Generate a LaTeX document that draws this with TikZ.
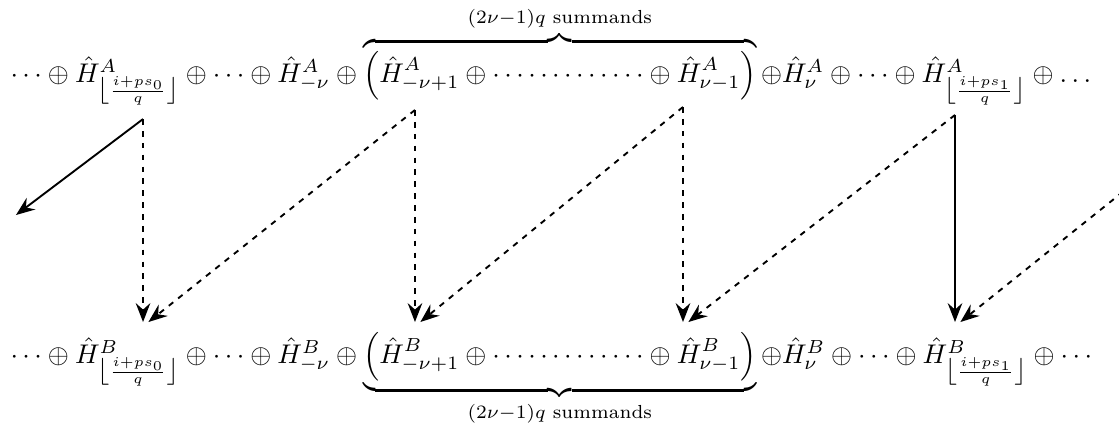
\documentclass[tikz,border=0pt]{standalone}
\usepackage{amsmath}
\usetikzlibrary{arrows.meta}
\tikzset{
  mapto/.style={-{Stealth[length=7pt,width=5.4pt,inset=2.4pt]}, line width=0.7pt},
  maptodash/.style={mapto, dash pattern=on 2.1pt off 2.3pt}
}
\newcommand{\flo}[1]{\left\lfloor\frac{i+ps_{#1}}{q}\right\rfloor}
\newcommand{\dotrun}{\mathinner{\cdotp\cdotp\cdotp\cdotp\cdotp\cdotp\cdotp\cdotp\cdotp\cdotp\cdotp\cdotp\cdotp}}
\begin{document}
\begin{tikzpicture}
  \useasboundingbox (0,0) rectangle (14.567,5.533);
  % Upper sum
  \node[anchor=base west, inner sep=0pt] (rowA) at (0.130,4.465)
    {$\cdots\oplus\hat H^A_{\flo{0}}\oplus\cdots\oplus\hat H^A_{-\nu}\oplus
      \overbrace{\left(\hat H^A_{-\nu+1}\oplus\dotrun\oplus\hat H^A_{\nu-1}\right)}^{(2\nu-1)q\text{ summands}}
      \oplus\hat H^A_{\nu}\oplus\cdots\oplus\hat H^A_{\flo{1}}\oplus\ldots$};
  % Lower sum
  \node[anchor=base west, inner sep=0pt] (rowB) at (0.130,0.807)
    {$\cdots\oplus\hat H^B_{\flo{0}}\oplus\cdots\oplus\hat H^B_{-\nu}\oplus
      \underbrace{\left(\hat H^B_{-\nu+1}\oplus\dotrun\oplus\hat H^B_{\nu-1}\right)}_{(2\nu-1)q\text{ summands}}
      \oplus\hat H^B_{\nu}\oplus\cdots\oplus\hat H^B_{\flo{1}}\oplus\cdots$};
  % Arrow ends
  \coordinate (a0) at (1.862,3.983);
  \coordinate (a1) at (5.402,4.101);
  \coordinate (a2) at (8.891,4.140);
  \coordinate (a3) at (12.432,4.036);
  \coordinate (a4) at (15.947,4.101);
  \coordinate (b0) at (1.862,1.341);
  \coordinate (b1) at (5.402,1.341);
  \coordinate (b2) at (8.891,1.341);
  \coordinate (b3) at (12.432,1.341);
  \coordinate (out) at (0.208,2.734);
  % Arrows
  \draw[mapto] (a0) -- (out);
  \draw[maptodash] (a0) -- (b0);
  \draw[maptodash] (a1) -- ([xshift=2pt]b0);
  \draw[maptodash] (a1) -- (b1);
  \draw[maptodash] (a2) -- ([xshift=2pt]b1);
  \draw[maptodash] (a2) -- (b2);
  \draw[maptodash] (a3) -- ([xshift=2pt]b2);
  \draw[mapto] (a3) -- (b3);
  \draw[maptodash] (a4) -- ([xshift=2pt]b3);
\end{tikzpicture}
\end{document}
